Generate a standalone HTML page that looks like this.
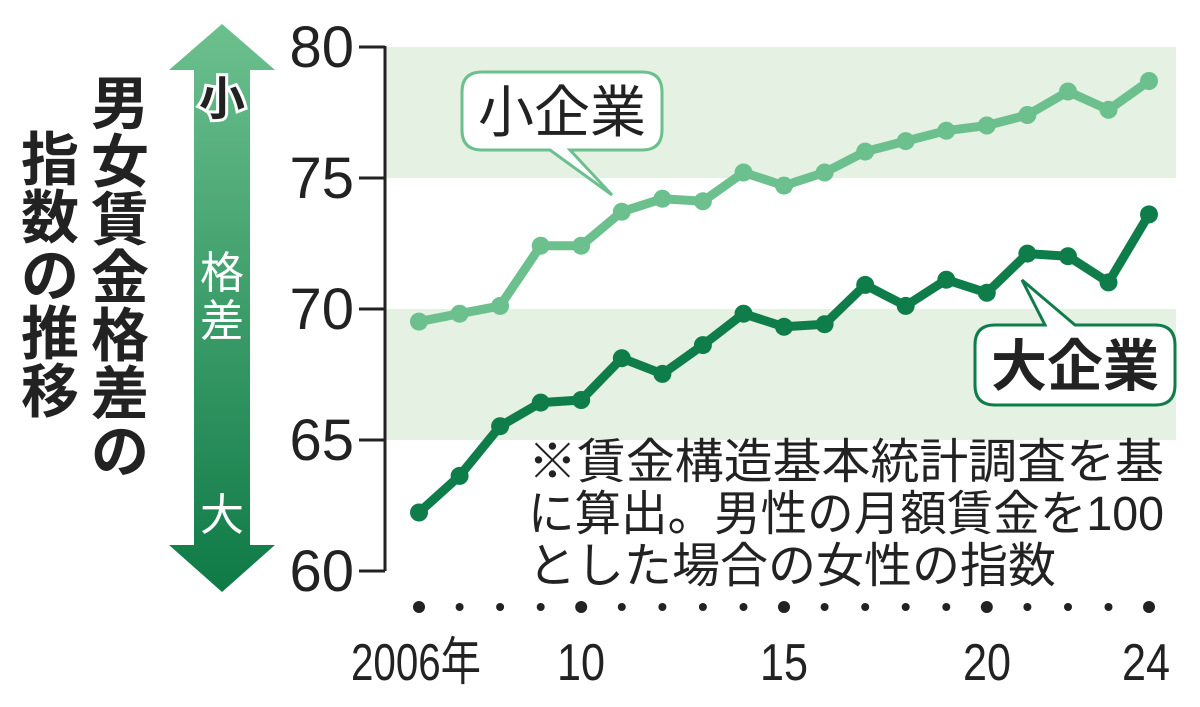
<!DOCTYPE html>
<html><head><meta charset="utf-8"><style>
body{margin:0;background:#fff}
svg{display:block}
text{font-family:"Liberation Sans","Noto Sans CJK JP",sans-serif}
</style></head><body>
<svg width="1200" height="707" viewBox="0 0 1200 707">
<defs><linearGradient id="g" x1="0" y1="0" x2="0" y2="1"><stop offset="0" stop-color="#6cc08e"/><stop offset="1" stop-color="#0e7a46"/></linearGradient></defs>
<rect x="386" y="47" width="790" height="131" fill="#e4f1e3"/>
<rect x="386" y="309" width="790" height="131" fill="#e4f1e3"/>
<g stroke="#222" stroke-width="3" fill="none">
<path d="M385 46V571"/>
<path d="M359 47H385M359 178H385M359 309H385M359 440H385M359 571H385"/>
</g>
<g font-size="58" fill="#222" text-anchor="end">
<text x="354" y="67">80</text><text x="354" y="198">75</text><text x="354" y="329">70</text><text x="354" y="460">65</text><text x="354" y="591">60</text>
</g>
<path d="M222 24L275 70H250V545H275L222 592L169 545H194V70H169Z" fill="url(#g)"/>
<g font-size="46" font-weight="bold" fill="#222" stroke="#fff" stroke-width="6" paint-order="stroke" text-anchor="middle"><text x="222" y="115">小</text></g>
<g font-size="44" fill="#fff" text-anchor="middle"><text x="222" y="288">格</text><text x="222" y="336">差</text><text x="222" y="530">大</text></g>
<g font-size="58" font-weight="bold" fill="#222" text-anchor="middle">
<text x="120" y="124">男</text><text x="120" y="182">女</text><text x="120" y="240">賃</text><text x="120" y="298">金</text><text x="120" y="356">格</text><text x="120" y="414">差</text><text x="120" y="472">の</text>
<text x="50" y="180">指</text><text x="50" y="238">数</text><text x="50" y="296">の</text><text x="50" y="354">推</text><text x="50" y="412">移</text>
</g>
<g fill="none" stroke-width="9" stroke-linejoin="round">
<polyline stroke="#6cc08e" points="419,321.6 459.6,313.7 500.1,305.9 540.7,245.7 581.2,245.7 621.8,211.7 662.4,198.7 702.9,201.3 743.5,172.5 784,185.6 824.6,172.5 865.2,151.6 905.7,141.1 946.3,130.7 986.8,125.5 1027.4,115 1068,91.5 1108.5,109.8 1149,81"/>
<polyline stroke="#0f7d4a" points="419,512.5 459.6,475.9 500.1,426.2 540.7,402.6 581.2,400 621.8,358.2 662.4,373.9 702.9,345.1 743.5,313.7 784,326.8 824.6,324.2 865.2,284.9 905.7,305.9 946.3,279.7 986.8,292.8 1027.4,253.6 1068,256.2 1108.5,282.4 1149,214.4"/>
</g>
<g fill="#6cc08e">
<circle cx="419" cy="321.6" r="9"/><circle cx="459.6" cy="313.7" r="9"/><circle cx="500.1" cy="305.9" r="9"/><circle cx="540.7" cy="245.7" r="9"/><circle cx="581.2" cy="245.7" r="9"/><circle cx="621.8" cy="211.7" r="9"/><circle cx="662.4" cy="198.7" r="9"/><circle cx="702.9" cy="201.3" r="9"/><circle cx="743.5" cy="172.5" r="9"/><circle cx="784" cy="185.6" r="9"/><circle cx="824.6" cy="172.5" r="9"/><circle cx="865.2" cy="151.6" r="9"/><circle cx="905.7" cy="141.1" r="9"/><circle cx="946.3" cy="130.7" r="9"/><circle cx="986.8" cy="125.5" r="9"/><circle cx="1027.4" cy="115" r="9"/><circle cx="1068" cy="91.5" r="9"/><circle cx="1108.5" cy="109.8" r="9"/><circle cx="1149" cy="81" r="9"/>
</g>
<g fill="#0f7d4a">
<circle cx="419" cy="512.5" r="9"/><circle cx="459.6" cy="475.9" r="9"/><circle cx="500.1" cy="426.2" r="9"/><circle cx="540.7" cy="402.6" r="9"/><circle cx="581.2" cy="400" r="9"/><circle cx="621.8" cy="358.2" r="9"/><circle cx="662.4" cy="373.9" r="9"/><circle cx="702.9" cy="345.1" r="9"/><circle cx="743.5" cy="313.7" r="9"/><circle cx="784" cy="326.8" r="9"/><circle cx="824.6" cy="324.2" r="9"/><circle cx="865.2" cy="284.9" r="9"/><circle cx="905.7" cy="305.9" r="9"/><circle cx="946.3" cy="279.7" r="9"/><circle cx="986.8" cy="292.8" r="9"/><circle cx="1027.4" cy="253.6" r="9"/><circle cx="1068" cy="256.2" r="9"/><circle cx="1108.5" cy="282.4" r="9"/><circle cx="1149" cy="214.4" r="9"/>
</g>
<path d="M482 72H642Q662 72 662 92V130Q662 150 642 150H570L612 195L550 150H482Q462 150 462 130V92Q462 72 482 72Z" fill="#fff" stroke="#6cc08e" stroke-width="3"/>
<text x="562" y="132" font-size="56" fill="#222" text-anchor="middle">小企業</text>
<path d="M995 325H1045L1022 280L1075 325H1155Q1175 325 1175 345V385Q1175 405 1155 405H995Q975 405 975 385V345Q975 325 995 325Z" fill="#fff" stroke="#0f7d4a" stroke-width="3"/>
<text x="1075" y="386" font-size="56" font-weight="bold" fill="#222" text-anchor="middle">大企業</text>
<g font-size="48" fill="#222">
<text x="528" y="478" textLength="636" lengthAdjust="spacingAndGlyphs">※賃金構造基本統計調査を基</text>
<text x="528" y="530" textLength="636" lengthAdjust="spacingAndGlyphs">に算出。男性の月額賃金を100</text>
<text x="528" y="582">とした場合の女性の指数</text>
</g>
<g fill="#222">
<circle cx="419" cy="607" r="6"/><circle cx="459.6" cy="607" r="4"/><circle cx="500.1" cy="607" r="4"/><circle cx="540.7" cy="607" r="4"/><circle cx="581.2" cy="607" r="6"/><circle cx="621.8" cy="607" r="4"/><circle cx="662.4" cy="607" r="4"/><circle cx="702.9" cy="607" r="4"/><circle cx="743.5" cy="607" r="4"/><circle cx="784" cy="607" r="6"/><circle cx="824.6" cy="607" r="4"/><circle cx="865.2" cy="607" r="4"/><circle cx="905.7" cy="607" r="4"/><circle cx="946.3" cy="607" r="4"/><circle cx="986.8" cy="607" r="6"/><circle cx="1027.4" cy="607" r="4"/><circle cx="1068" cy="607" r="4"/><circle cx="1108.5" cy="607" r="4"/><circle cx="1149" cy="607" r="6"/>
</g>
<g font-size="52" fill="#222" text-anchor="middle">
<text x="416" y="680" textLength="130" lengthAdjust="spacingAndGlyphs">2006年</text>
<text x="581" y="680" textLength="48" lengthAdjust="spacingAndGlyphs">10</text><text x="784" y="680" textLength="48" lengthAdjust="spacingAndGlyphs">15</text><text x="987" y="680" textLength="48" lengthAdjust="spacingAndGlyphs">20</text><text x="1146" y="680" textLength="48" lengthAdjust="spacingAndGlyphs">24</text>
</g>
</svg>
</body></html>
